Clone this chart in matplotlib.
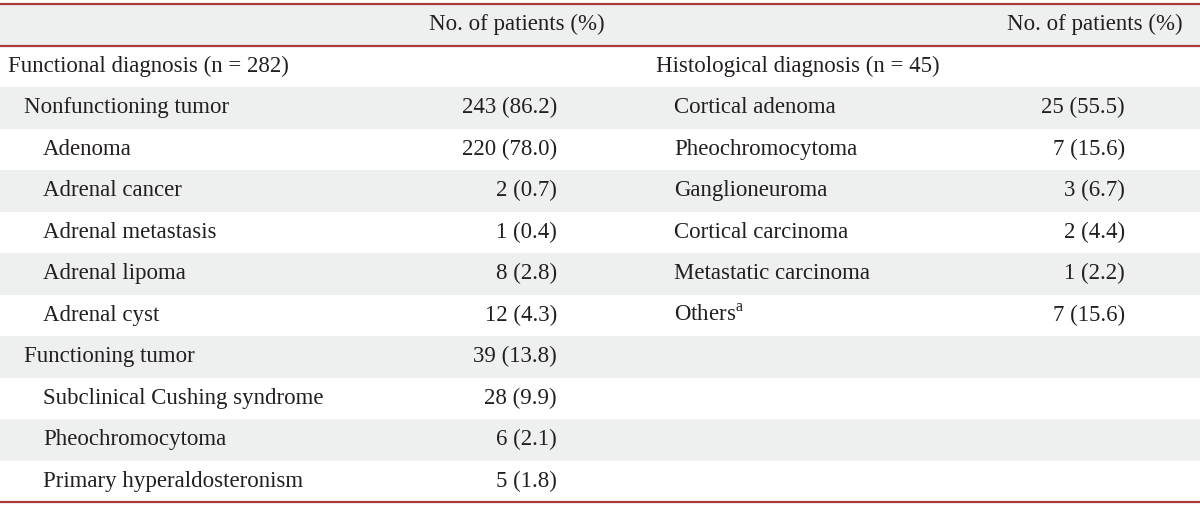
import matplotlib.pyplot as plt

# left block: functional diagnosis
left_labels = ["Functional diagnosis (n = 282)", "Nonfunctioning tumor", "Adenoma",
               "Adrenal cancer", "Adrenal metastasis", "Adrenal lipoma", "Adrenal cyst",
               "Functioning tumor", "Subclinical Cushing syndrome", "Pheochromocytoma",
               "Primary hyperaldosteronism"]
left_levels = [0, 1, 2, 2, 2, 2, 2, 1, 2, 2, 2]
left_values = ["", "243 (86.2)", "220 (78.0)", "2 (0.7)", "1 (0.4)", "8 (2.8)",
               "12 (4.3)", "39 (13.8)", "28 (9.9)", "6 (2.1)", "5 (1.8)"]

# right block: histological diagnosis
right_labels = ["Histological diagnosis (n = 45)", "Cortical adenoma", "Pheochromocytoma",
                "Ganglioneuroma", "Cortical carcinoma", "Metastatic carcinoma",
                r"Others$^{\mathregular{a}}$"]
right_levels = [0, 1, 1, 1, 1, 1, 1]
right_values = ["", "25 (55.5)", "7 (15.6)", "3 (6.7)", "2 (4.4)", "1 (2.2)", "7 (15.6)"]

header = "No. of patients (%)"

plt.rcParams['font.family'] = ['Liberation Serif', 'DejaVu Serif']
plt.rcParams['mathtext.fontset'] = 'custom'
plt.rcParams['mathtext.rm'] = 'Liberation Serif'

fig = plt.figure(figsize=(12, 5.12), dpi=100)
ax = fig.add_axes([0, 0, 1, 1])
ax.set_xlim(0, 1200)
ax.set_ylim(512, 0)
ax.axis('off')

top = 4
h = 41.5
n_rows = len(left_labels) + 1
fs = 16.5
txt = '#231f20'
stripe = '#eeefef'
red = '#a93b3b'

# header band and zebra stripes
ax.axhspan(top, top + h, color=stripe, lw=0)
for i in range(1, n_rows):
    if i % 2 == 0:
        ax.axhspan(top + i * h, top + (i + 1) * h, color=stripe, lw=0)

ax.axhline(top, color=red, lw=1.6)
ax.axhline(top + h, color=red, lw=1.6)
ax.axhline(top + n_rows * h, color=red, lw=1.6)

ax.text(605, top + h / 2, header, ha='right', va='center', fontsize=fs, color=txt)
ax.text(1183, top + h / 2, header, ha='right', va='center', fontsize=fs, color=txt)

indent = [8, 24, 43]
for i, (lab, lev, val) in enumerate(zip(left_labels, left_levels, left_values)):
    y = top + (i + 1.5) * h
    ax.text(indent[lev], y, lab, ha='left', va='center', fontsize=fs, color=txt)
    if val:
        ax.text(557, y, val, ha='right', va='center', fontsize=fs, color=txt)

r_indent = [656, 674]
for i, (lab, lev, val) in enumerate(zip(right_labels, right_levels, right_values)):
    y = top + (i + 1.5) * h
    ax.text(r_indent[lev], y, lab, ha='left', va='center', fontsize=fs, color=txt)
    if val:
        ax.text(1125, y, val, ha='right', va='center', fontsize=fs, color=txt)

fig.savefig('out.png', dpi=100)
